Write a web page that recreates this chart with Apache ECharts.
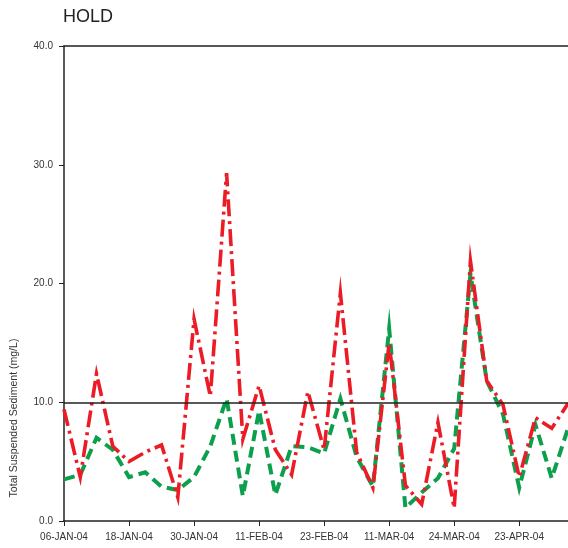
<!DOCTYPE html>
<html>
<head>
<meta charset="utf-8">
<script src="https://cdn.jsdelivr.net/npm/echarts@6/dist/echarts.min.js"></script>
<style>
  html, body { margin: 0; padding: 0; background: #fff; }
  #chart { width: 568px; height: 548px; }
</style>
</head>
<body>
<div id="chart"></div>
<script>
// Sampling dates (every 4th one is labelled on the axis)
const categories = [
  '06-JAN-04', '09-JAN-04', '12-JAN-04', '15-JAN-04',
  '18-JAN-04', '21-JAN-04', '24-JAN-04', '27-JAN-04',
  '30-JAN-04', '02-FEB-04', '05-FEB-04', '08-FEB-04',
  '11-FEB-04', '14-FEB-04', '17-FEB-04', '20-FEB-04',
  '23-FEB-04', '27-FEB-04', '02-MAR-04', '06-MAR-04',
  '11-MAR-04', '14-MAR-04', '17-MAR-04', '21-MAR-04',
  '24-MAR-04', '01-APR-04', '08-APR-04', '16-APR-04',
  '23-APR-04', '26-APR-04', '29-APR-04', '02-MAY-04'
];

// Total suspended sediment (mg/L), red dash-dot series
const redValues = [
  9.4, 3.7, 12.4, 6.3, 5.0, 5.8, 6.4, 2.0,
  17.0, 10.5, 29.3, 6.9, 11.4, 6.0, 3.9, 10.9,
  6.0, 19.2, 5.8, 2.8, 15.0, 3.0, 1.4, 8.3,
  1.1, 21.9, 11.8, 9.8, 3.7, 8.7, 7.8, 9.9
];

// Total suspended sediment (mg/L), green dashed series
const greenValues = [
  3.5, 3.9, 7.0, 6.0, 3.7, 4.1, 2.9, 2.6,
  3.7, 6.3, 10.3, 2.1, 9.3, 2.2, 6.3, 6.2,
  5.7, 10.3, 5.4, 2.9, 16.2, 1.1, 2.4, 3.6,
  6.1, 20.8, 11.8, 9.0, 2.8, 8.1, 3.6, 7.8
];

// Reference level drawn across the plot
const referenceLevel = 10;

const FONT = '"Liberation Sans", Arial, Helvetica, sans-serif';
const chart = echarts.init(document.getElementById('chart'), null, { renderer: 'canvas' });

chart.setOption({
  animation: false,
  backgroundColor: '#ffffff',
  title: {
    text: 'HOLD',
    left: 58,
    top: 3,
    textStyle: { fontFamily: FONT, fontSize: 18, fontWeight: 'normal', color: '#222' }
  },
  grid: {
    left: 64,
    top: 46,
    width: 506,
    bottom: 27,
    show: false
  },
  xAxis: [
    {
      type: 'category',
      data: categories,
      boundaryGap: false,
      axisLine: { show: true, lineStyle: { color: '#222', width: 1.5 } },
      axisTick: { show: true, interval: 3, length: 5, lineStyle: { color: '#222', width: 1 } },
      axisLabel: {
        interval: 3,
        margin: 11,
        fontFamily: FONT,
        fontSize: 10,
        color: '#333'
      },
      splitLine: { show: false }
    },
    {
      // top frame edge
      type: 'category',
      data: categories,
      position: 'top',
      boundaryGap: false,
      axisLine: { show: true, lineStyle: { color: '#222', width: 1.5 } },
      axisTick: { show: false },
      axisLabel: { show: false },
      splitLine: { show: false }
    }
  ],
  yAxis: {
    type: 'value',
    min: 0,
    max: 40,
    interval: 10,
    axisLine: { show: true, lineStyle: { color: '#222', width: 1.5 } },
    axisTick: { show: true, length: 5, lineStyle: { color: '#222', width: 1 } },
    axisLabel: {
      margin: 11,
      fontFamily: FONT,
      fontSize: 10,
      color: '#333',
      formatter: function (v) { return v.toFixed(1); }
    },
    splitLine: { show: false }
  },
  graphic: [{
    type: 'text',
    x: 14,
    y: 418,
    rotation: Math.PI / 2,
    style: {
      text: 'Total Suspended Sediment (mg/L)',
      fontFamily: FONT,
      fontSize: 10.5,
      fill: '#333',
      align: 'center',
      verticalAlign: 'middle'
    }
  }],
  series: [
    {
      name: 'green',
      type: 'line',
      data: greenValues,
      showSymbol: false,
      symbol: 'none',
      z: 2,
      lineStyle: {
        color: '#0c9f4c',
        width: 4,
        type: [11, 6],
        join: 'miter',
        miterLimit: 12,
        cap: 'butt'
      },
      markLine: {
        silent: true,
        symbol: 'none',
        label: { show: false },
        lineStyle: { color: '#222', width: 1.5, type: 'solid' },
        data: [{ yAxis: referenceLevel }]
      }
    },
    {
      name: 'red',
      type: 'line',
      data: redValues,
      showSymbol: false,
      symbol: 'none',
      z: 3,
      lineStyle: {
        color: '#ec1c27',
        width: 3.6,
        type: [17, 5, 3, 5],
        join: 'miter',
        miterLimit: 12,
        cap: 'butt'
      }
    }
  ]
});
</script>
</body>
</html>
